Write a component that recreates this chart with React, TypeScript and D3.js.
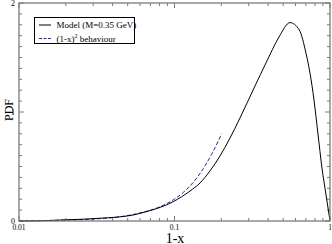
import React, { useEffect, useRef } from "react";
import * as d3 from "d3";

// model curve: 1-x vs PDF
const modelU = [0.01, 0.0123, 0.0203, 0.0332, 0.0543, 0.06, 0.0696, 0.088, 0.098, 0.1258, 0.146, 0.169, 0.196, 0.2275, 0.2637, 0.3294, 0.3877, 0.4699, 0.5531, 0.635, 0.701, 0.7434, 0.789, 0.837, 0.888, 0.943, 1.0];
const modelPdf = [0.0, 0.001, 0.011, 0.025, 0.055, 0.07, 0.095, 0.145, 0.177, 0.275, 0.349, 0.459, 0.596, 0.761, 0.945, 1.239, 1.45, 1.688, 1.82, 1.752, 1.538, 1.358, 1.11, 0.798, 0.486, 0.239, 0.0];

// (1-x)^2 behaviour, dashed blue
const powU = [0.01, 0.02, 0.03, 0.045, 0.06, 0.0807, 0.098, 0.114, 0.132, 0.153, 0.173, 0.201];
const powPdf = [0.002, 0.008, 0.018, 0.04, 0.074, 0.131, 0.193, 0.263, 0.355, 0.48, 0.61, 0.8];

const xTicksMajor = [0.01, 0.1, 1];
const xTickLabels = ["0.01", "0.1", "1"];
const yTicksMajor = [0, 1, 2];
const yTickLabels = ["0", "1", "2"];

const legendLabels = ["Model (M=0.35 GeV)", "(1-x)"];

const App: React.FC = () => {
  const svgRef = useRef<SVGSVGElement | null>(null);

  useEffect(() => {
    if (!svgRef.current) return;
    document.body.style.margin = "0";
    const svg = d3.select(svgRef.current);
    svg.selectAll("*").remove();

    const width = 332;
    const height = 244;
    const left = 19;
    const right = 330;
    const top = 3;
    const bottom = 221;
    const font = "'Liberation Serif', 'DejaVu Serif', serif";
    const frame = "#7a7a7a";

    const x = d3.scaleLog().domain([0.01, 1]).range([left, right]);
    const y = d3.scaleLinear().domain([0, 2]).range([bottom, top]);

    svg.attr("width", width).attr("height", height);

    // minor ticks
    const xMinor: number[] = [];
    [0.01, 0.1].forEach((d) => {
      for (let k = 2; k <= 9; k++) xMinor.push(d * k);
    });
    const yMinor = d3.range(1, 20).filter((k) => k !== 10).map((k) => k / 10);

    const ticks = svg.append("g").attr("stroke", frame).attr("stroke-width", 1);
    xMinor.forEach((d) => {
      ticks.append("line").attr("x1", x(d)).attr("x2", x(d)).attr("y1", bottom).attr("y2", bottom - 3);
      ticks.append("line").attr("x1", x(d)).attr("x2", x(d)).attr("y1", top).attr("y2", top + 3);
    });
    xTicksMajor.forEach((d) => {
      ticks.append("line").attr("x1", x(d)).attr("x2", x(d)).attr("y1", bottom).attr("y2", bottom - 5);
      ticks.append("line").attr("x1", x(d)).attr("x2", x(d)).attr("y1", top).attr("y2", top + 5);
    });
    yMinor.forEach((d) => {
      ticks.append("line").attr("x1", left).attr("x2", left + 3).attr("y1", y(d)).attr("y2", y(d));
      ticks.append("line").attr("x1", right).attr("x2", right - 3).attr("y1", y(d)).attr("y2", y(d));
    });
    yTicksMajor.forEach((d) => {
      ticks.append("line").attr("x1", left).attr("x2", left + 5).attr("y1", y(d)).attr("y2", y(d));
      ticks.append("line").attr("x1", right).attr("x2", right - 5).attr("y1", y(d)).attr("y2", y(d));
    });

    // curves
    const line = d3
      .line<[number, number]>()
      .x((d) => x(d[0]))
      .y((d) => y(d[1]))
      .curve(d3.curveMonotoneX);

    svg.append("path")
      .datum(powU.map((u, i) => [u, powPdf[i]] as [number, number]))
      .attr("fill", "none")
      .attr("stroke", "#2020ff")
      .attr("stroke-width", 1)
      .attr("stroke-dasharray", "4,2")
      .attr("d", line);

    svg.append("path")
      .datum(modelU.map((u, i) => [u, modelPdf[i]] as [number, number]))
      .attr("fill", "none")
      .attr("stroke", "#000")
      .attr("stroke-width", 1)
      .attr("d", line);

    // frame
    svg.append("rect")
      .attr("x", left)
      .attr("y", top)
      .attr("width", right - left)
      .attr("height", bottom - top)
      .attr("fill", "none")
      .attr("stroke", frame)
      .attr("stroke-width", 1.3);

    // tick labels
    xTicksMajor.forEach((d, i) => {
      svg.append("text")
        .attr("x", x(d))
        .attr("y", 229.5)
        .attr("text-anchor", "middle")
        .attr("font-family", font)
        .attr("font-size", 7.5)
        .text(xTickLabels[i]);
    });
    yTicksMajor.forEach((d, i) => {
      svg.append("text")
        .attr("x", left - 4)
        .attr("y", y(d) + 3)
        .attr("text-anchor", "end")
        .attr("font-family", font)
        .attr("font-size", 8)
        .text(yTickLabels[i]);
    });

    // axis titles
    svg.append("text")
      .attr("x", 175)
      .attr("y", 242.5)
      .attr("text-anchor", "middle")
      .attr("font-family", font)
      .attr("font-size", 14)
      .text("1-x");
    svg.append("text")
      .attr("transform", "rotate(-90)")
      .attr("x", -110)
      .attr("y", 13)
      .attr("text-anchor", "middle")
      .attr("font-family", font)
      .attr("font-size", 12)
      .text("PDF");

    // legend
    const lg = svg.append("g");
    lg.append("rect")
      .attr("x", 34.5)
      .attr("y", 17.5)
      .attr("width", 100)
      .attr("height", 26)
      .attr("fill", "#fff")
      .attr("stroke", "#000")
      .attr("stroke-width", 1);
    lg.append("line").attr("x1", 39).attr("x2", 51).attr("y1", 25).attr("y2", 25)
      .attr("stroke", "#000").attr("stroke-width", 1);
    lg.append("line").attr("x1", 39).attr("x2", 51).attr("y1", 38.5).attr("y2", 38.5)
      .attr("stroke", "#2020ff").attr("stroke-width", 1).attr("stroke-dasharray", "3,1.5");
    lg.append("text")
      .attr("x", 56.5)
      .attr("y", 28)
      .attr("font-family", font)
      .attr("font-size", 9)
      .text(legendLabels[0]);
    const t2 = lg.append("text")
      .attr("x", 56.5)
      .attr("y", 41.5)
      .attr("font-family", font)
      .attr("font-size", 9);
    t2.append("tspan").text(legendLabels[1]);
    t2.append("tspan").attr("font-size", 6).attr("dy", -4).text("2");
    t2.append("tspan").attr("dy", 4).text(" behaviour");
  }, []);

  return <svg ref={svgRef} style={{ display: "block" }}></svg>;
};

export default App;
